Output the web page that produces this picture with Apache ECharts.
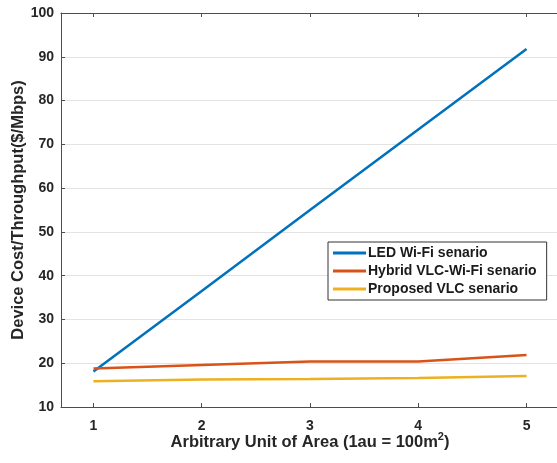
<!DOCTYPE html>
<html>
<head>
<meta charset="utf-8">
<script src="https://cdn.jsdelivr.net/npm/echarts@6/dist/echarts.min.js"></script>
<style>
  html, body { margin: 0; padding: 0; background: #fff; }
  #main { width: 557px; height: 463px; }
</style>
</head>
<body>
<div id="main"></div>
<script>
var areaUnits = [1, 2, 3, 4, 5];
var ledWifi = [18.1, 36.5, 55.0, 73.4, 91.8];
var hybridVlcWifi = [18.8, 19.6, 20.4, 20.4, 21.9];
var proposedVlc = [15.9, 16.3, 16.4, 16.6, 17.1];
var seriesNames = ['LED Wi-Fi senario', 'Hybrid VLC-Wi-Fi senario', 'Proposed VLC senario'];
var yTicks = [10, 20, 30, 40, 50, 60, 70, 80, 90, 100];

function pairs(vals) {
    return areaUnits.map(function (x, i) { return [x, vals[i]]; });
}

var myChart = echarts.init(document.getElementById('main'));

var font = 'Liberation Sans, Arial, sans-serif';
var axisColor = '#4d4d4d';

var option = {
    animation: false,
    grid: {
        left: 61,
        right: -2,
        top: 13,
        bottom: 56,
        outerBoundsMode: 'none',
        containLabel: false
    },
    legend: {
        orient: 'vertical',
        left: 328,
        top: 242,
        padding: [4, 10, 4, 5],
        itemGap: 4,
        itemWidth: 33,
        itemHeight: 3,
        icon: 'rect',
        borderColor: '#333',
        borderWidth: 1,
        backgroundColor: '#fff',
        textStyle: {
            fontFamily: font,
            fontWeight: 'bold',
            fontSize: 14,
            color: '#1a1a1a',
            padding: [0, 0, 0, -3]
        },
        data: seriesNames
    },
    xAxis: [
        {
            type: 'value',
            min: 0.7,
            max: 5.3,
            name: 'Arbitrary Unit of Area (1au = 100m{sup|2})',
            nameLocation: 'middle',
            nameGap: 27,
            nameMoveOverlap: false,
            nameTextStyle: {
                fontFamily: font,
                fontWeight: 'bold',
                fontSize: 16.5,
                color: '#262626',
                rich: {
                    sup: {
                        fontFamily: font,
                        fontWeight: 'bold',
                        fontSize: 11,
                        color: '#262626',
                        lineHeight: 11,
                        padding: [0, 0, 12, 0]
                    }
                }
            },
            axisLine: { show: true, onZero: false, lineStyle: { color: axisColor, width: 1 } },
            axisTick: { show: true, inside: true, length: 4, customValues: areaUnits, lineStyle: { color: axisColor } },
            axisLabel: {
                margin: 12,
                fontFamily: font,
                fontWeight: 'bold',
                fontSize: 14,
                color: '#262626',
                customValues: areaUnits
            },
            splitLine: { show: false }
        },
        {
            type: 'value',
            position: 'top',
            min: 0.7,
            max: 5.3,
            axisLine: { show: true, onZero: false, lineStyle: { color: axisColor, width: 1 } },
            axisTick: { show: true, inside: true, length: 4, customValues: areaUnits, lineStyle: { color: axisColor } },
            axisLabel: { show: false },
            splitLine: { show: false }
        }
    ],
    yAxis: [
        {
            type: 'value',
            min: yTicks[0],
            max: yTicks[yTicks.length - 1],
            interval: 10,
            name: 'Device Cost/Throughput($/Mbps)',
            nameLocation: 'middle',
            nameGap: 34,
            nameMoveOverlap: false,
            nameTextStyle: {
                fontFamily: font,
                fontWeight: 'bold',
                fontSize: 16.5,
                color: '#262626'
            },
            axisLine: { show: true, onZero: false, lineStyle: { color: axisColor, width: 1 } },
            axisTick: { show: true, inside: true, length: 4, lineStyle: { color: axisColor } },
            axisLabel: {
                margin: 7,
                fontFamily: font,
                fontWeight: 'bold',
                fontSize: 14,
                color: '#262626'
            },
            splitLine: { show: true, lineStyle: { color: '#e3e3e3', width: 1 } }
        }
    ],
    series: [
        {
            name: seriesNames[0],
            type: 'line',
            data: pairs(ledWifi),
            showSymbol: false,
            color: '#0072BD',
            lineStyle: { width: 2.5, color: '#0072BD' }
        },
        {
            name: seriesNames[1],
            type: 'line',
            data: pairs(hybridVlcWifi),
            showSymbol: false,
            color: '#D95319',
            lineStyle: { width: 2.5, color: '#D95319' }
        },
        {
            name: seriesNames[2],
            type: 'line',
            data: pairs(proposedVlc),
            showSymbol: false,
            color: '#EDB120',
            lineStyle: { width: 2.5, color: '#EDB120' }
        }
    ]
};

myChart.setOption(option);
</script>
</body>
</html>
